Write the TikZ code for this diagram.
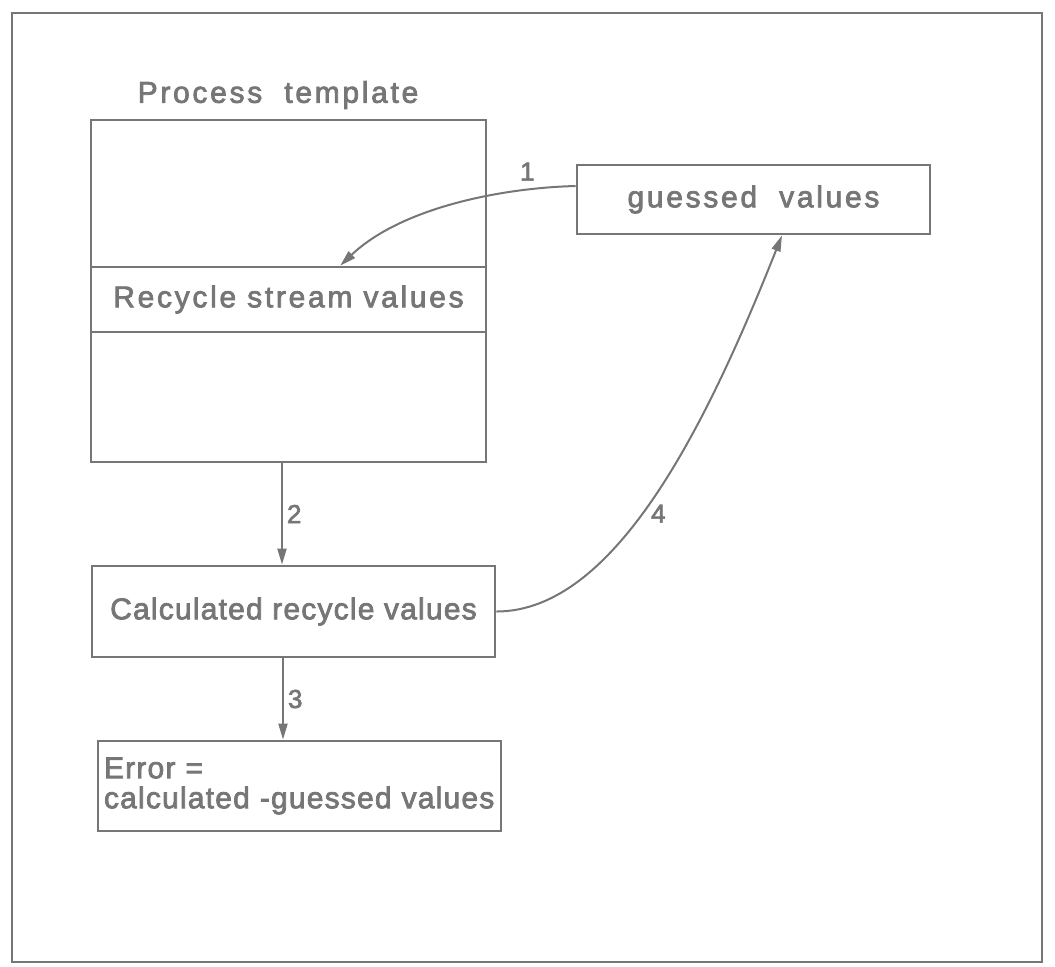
\documentclass[tikz,border=0pt]{standalone}
\usepackage{fontspec}
\setmainfont{Liberation Sans}[LetterSpace=4,FakeBold=2.5]
\newfontfamily\widefont{Liberation Sans}[LetterSpace=9,FakeBold=2.5]
\usetikzlibrary{arrows.meta,positioning,calc}
\definecolor{ink}{RGB}{118,118,118}

\begin{document}
\begin{tikzpicture}[x=0.5pt,y=-0.5pt,
  box/.style={draw=ink,line width=1.4pt,align=center,inner sep=0pt,text=ink,font=\fontsize{15}{19}\selectfont},
  wide/.style={text=ink,font=\widefont\fontsize{15}{19}\selectfont},
  num/.style={text=ink,inner sep=2pt,font=\fontsize{13}{15}\selectfont},
  link/.style={draw=ink,line width=1pt},
  >={Triangle[length=8pt,width=4.5pt]}]
\useasboundingbox (0,0) rectangle (1055,966);
\draw[ink,line width=1.4pt] (12,13) rectangle (1042,962);
\node[box,minimum width=197.5pt,minimum height=171pt] (PT) at (288.5,291) {};
\node[box,wide,minimum width=197.5pt,minimum height=32.5pt] (RS) at (288.5,299.5) {Recycle stream values};
\node[wide] (title) at (278,95) {Process~ template};
\node[box,wide,minimum width=176.5pt,minimum height=34.5pt] (GV) at (753.5,199.5) {guessed~ values};
\node[box,minimum width=201.5pt,minimum height=45.5pt] (CR) at (293.5,611.5) {Calculated recycle values};
\node[box,align=left,inner xsep=3pt,text width=195.5pt,minimum height=45pt,font=\fontsize{15}{15}\selectfont] (ER) at (299.5,786) {Error =\\calculated -guessed values};
\coordinate (RSin) at ($(RS.north west)!0.63!(RS.north east)$);
\coordinate (GVin) at ($(GV.south west)!0.58!(GV.south east)$);
\draw[link,->] ([yshift=6.75pt]GV.west) .. controls +(-77,2) and +(60,-57) .. node[num,pos=0.2,above=2pt] {1} (RSin);
\draw[link,->] ([xshift=-3.25pt]PT.south) -- node[num,right] {2} ([xshift=-3.25pt]PT.south |- CR.north);
\draw[link,->] ([xshift=-5.25pt]CR.south) -- node[num,right] {3} ([xshift=-5.25pt]CR.south |- ER.north);
\draw[link,->] (CR.east) .. controls +(120,0) and +(-74,186) .. node[num,pos=0.45,right=2pt] {4} (GVin);
\end{tikzpicture}
\end{document}
